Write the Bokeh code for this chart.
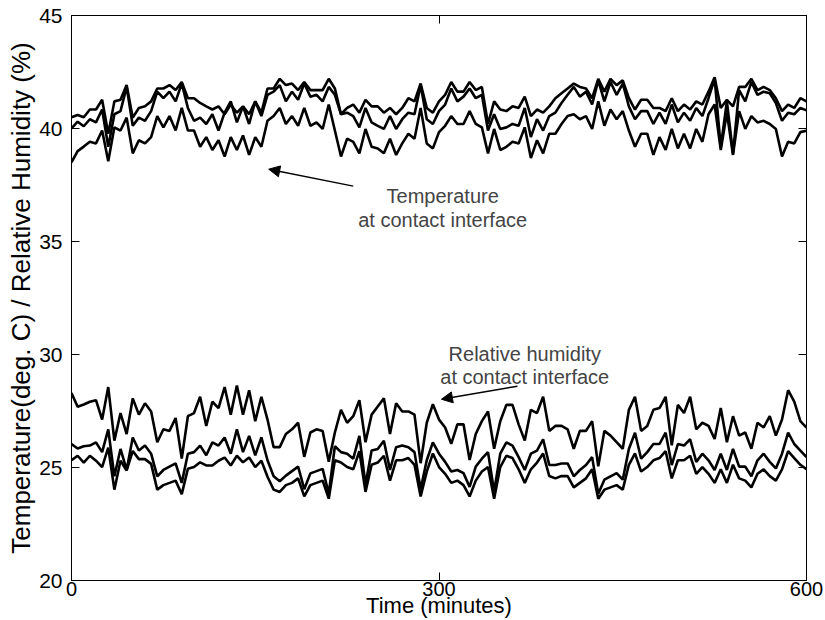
from bokeh.plotting import figure
from bokeh.models import FixedTicker, LinearAxis, Label, Arrow, NormalHead, Range1d
from bokeh.embed import file_html
from bokeh.resources import INLINE

time_min = list(range(0, 601, 5))

temp_1 = [40.5, 40.6, 40.5,
          40.84, 40.84, 41.27, 39.77, 41.20, 41.27, 41.92, 40.48, 40.91, 40.98,
          41.20, 41.77, 41.77, 41.92, 41.70, 42.06, 41.34, 41.34, 41.13, 40.98,
          40.84, 40.98, 40.63, 41.06, 40.70, 40.98, 40.63, 41.20, 40.70, 41.77,
          41.77, 42.20, 41.92, 41.99, 41.70, 42.06, 41.70, 41.70, 41.70, 42.20,
          41.77, 40.63, 40.91, 41.06, 40.70, 41.27, 40.98, 40.98, 40.70, 40.91,
          40.63, 40.91, 41.34, 41.20, 41.99, 40.91, 40.70, 41.20, 41.49, 42.06,
          41.63, 41.63, 42.06, 41.70, 41.84, 40.20, 41.20, 40.84, 40.77, 40.98,
          40.91, 41.41, 40.55, 40.84, 40.70, 40.98, 41.34, 41.56,
          41.77, 41.99, 41.84, 41.77, 41.34, 42.20, 41.63, 42.20, 41.92, 42.13,
          41.34, 40.84, 41.27, 41.27, 40.91, 40.91, 40.77, 41.34, 40.77, 41.06,
          40.84, 41.20, 41.06, 41.63, 42.27, 40.91, 41.27, 40.98, 41.84, 41.84,
          42.20, 41.70, 41.84, 41.70, 41.34, 40.77, 41.06, 40.91, 41.34, 41.2]

temp_2 = [40.0, 40.3, 40.1,
          40.41, 40.27, 40.84, 39.19, 40.63, 40.77, 41.84, 40.12, 40.48, 40.34,
          40.77, 41.63, 41.34, 41.63, 41.20, 41.99, 40.91, 40.34, 40.48, 40.20,
          40.63, 39.91, 40.70, 41.20, 40.27, 40.98, 40.20, 41.20, 40.55, 41.49,
          41.63, 41.92, 41.20, 41.63, 41.27, 41.99, 41.41, 41.49, 41.20, 41.84,
          41.49, 40.63, 40.70, 40.55, 40.05, 40.91, 40.27, 40.12, 39.98, 40.55,
          39.98, 40.41, 40.70, 40.63, 41.92, 40.41, 40.20, 40.77, 41.06, 41.77,
          41.20, 41.41, 41.77, 41.34, 41.49, 39.91, 40.63, 39.98, 40.05, 40.20,
          40.12, 40.91, 39.62, 40.41, 39.91, 40.55, 40.70, 41.13,
          41.49, 41.84, 41.41, 41.63, 41.06, 42.13, 41.20, 42.06, 41.49, 41.99,
          40.98, 40.41, 40.77, 40.77, 40.20, 40.70, 40.20, 41.06, 40.27, 40.70,
          40.34, 40.91, 40.55, 41.34, 42.20, 39.19, 41.20, 38.90, 41.70, 41.20,
          42.06, 41.49, 41.63, 41.56, 41.13, 40.34, 40.70, 40.63, 40.91, 40.8]

temp_3 = [38.5, 39.0, 39.2,
          39.41, 39.34, 39.91, 38.55, 40.05, 39.91, 40.48, 38.90, 39.48, 39.34,
          39.62, 40.55, 40.05, 40.55, 39.91, 40.91, 39.91, 39.91, 39.19, 39.62,
          39.05, 39.48, 38.76, 39.62, 39.05, 39.69, 38.83, 39.62, 39.19, 40.34,
          40.55, 40.91, 40.20, 40.55, 40.12, 40.91, 40.12, 40.27, 39.98, 41.06,
          39.91, 38.76, 39.55, 39.41, 38.90, 39.98, 39.19, 39.12, 38.90, 39.55,
          38.83, 39.34, 39.77, 39.55, 40.91, 39.34, 39.12, 39.84, 40.12, 40.55,
          40.20, 40.20, 40.77, 40.20, 40.05, 38.90, 39.98, 39.05, 39.19, 39.41,
          39.34, 40.05, 38.69, 39.48, 38.90, 39.77, 39.77, 40.20,
          40.55, 40.63, 40.41, 40.55, 39.98, 41.20, 40.12, 40.84, 40.41, 40.77,
          39.91, 39.19, 39.77, 39.77, 38.83, 39.62, 39.05, 39.98, 39.12, 39.77,
          39.12, 39.98, 39.41, 40.63, 41.06, 39.05, 40.70, 38.83, 40.77, 39.98,
          40.55, 40.27, 40.34, 40.20, 39.98, 38.76, 39.41, 39.34, 39.84, 39.9]

rh_1 = [28.29, 27.69, 27.79,
        27.91, 27.98, 27.12, 28.56, 26.19, 27.41, 26.48, 28.06, 27.34, 27.84,
        27.48, 26.12, 26.69, 26.62, 27.19, 25.40, 27.27, 27.41, 28.13, 26.84,
        27.91, 27.63, 28.56, 27.34, 28.63, 27.34, 28.42, 27.05, 28.13, 27.12,
        25.90, 25.90, 26.48, 26.69, 26.98, 25.47, 26.55, 26.69, 26.62, 25.26,
        26.55, 27.55, 26.98, 27.27, 27.98, 26.12, 27.34, 27.70, 28.06, 26.48,
        27.84, 27.48, 27.48, 27.34, 25.19, 26.98, 27.80, 27.12, 26.77, 26.05,
        26.91, 26.91, 25.33, 26.48, 27.05, 27.48, 25.83, 27.05, 27.77, 27.77,
        26.91, 26.19, 27.55, 27.41, 28.13, 26.62, 26.84, 26.84,
        26.69, 25.83, 26.62, 26.62, 27.05, 25.05, 26.62, 26.41, 26.12, 25.83,
        27.55, 28.13, 26.62, 26.84, 27.55, 27.63, 28.13, 25.98, 27.77, 27.41,
        28.13, 26.69, 26.98, 26.84, 26.26, 27.63, 26.12, 27.27, 26.41, 26.55,
        25.83, 26.98, 26.77, 27.27, 26.41, 27.12, 28.42, 27.91, 27.05, 26.77]

rh_2 = [26.04, 25.84, 25.94,
        25.97, 26.11, 25.68, 26.69, 24.61, 25.82, 24.89, 26.33, 25.75, 25.97,
        25.61, 24.61, 24.89, 25.04, 25.18, 24.32, 25.61, 25.68, 25.97, 25.54,
        26.11, 25.97, 26.33, 25.61, 26.69, 25.68, 26.40, 25.54, 26.33, 25.32,
        24.61, 24.39, 24.64, 24.84, 25.04, 24.04, 24.74, 24.84, 24.94, 23.84,
        25.94, 25.68, 25.61, 25.39, 26.40, 24.24, 25.75, 25.82, 26.18, 24.89,
        25.90, 25.97, 25.90, 25.68, 24.04, 25.32, 26.11, 25.61, 25.25, 24.82,
        24.89, 24.75, 24.14, 25.04, 25.39, 25.68, 23.94, 25.61, 26.11, 25.97,
        25.46, 24.89, 25.61, 25.75, 26.25, 25.11, 25.11, 25.18,
        25.18, 24.61, 24.89, 25.11, 25.46, 23.84, 24.46, 24.61, 24.75, 24.46,
        25.82, 26.54, 25.39, 25.68, 26.04, 26.04, 26.54, 25.11, 26.04, 25.97,
        26.25, 25.25, 25.61, 25.32, 24.89, 25.61, 24.89, 25.82, 25.04, 25.04,
        24.61, 25.32, 25.61, 25.25, 24.96, 25.61, 26.54, 26.04, 25.75, 25.46]

rh_3 = [25.32, 25.52, 25.22,
        25.52, 25.30, 25.02, 25.88, 24.02, 25.30, 24.87, 25.73, 25.37, 25.37,
        25.16, 24.02, 24.22, 24.32, 24.42, 23.82, 24.94, 25.02, 25.23, 25.09,
        25.09, 25.30, 25.44, 25.09, 25.52, 25.23, 25.44, 25.02, 25.30, 24.59,
        24.02, 23.92, 24.22, 24.32, 24.52, 23.72, 24.22, 24.32, 24.42, 23.62,
        25.32, 25.22, 25.02, 24.92, 25.72, 23.92, 25.12, 25.22, 25.52, 24.42,
        25.32, 25.32, 25.42, 25.12, 23.72, 24.82, 25.62, 25.02, 24.72, 24.32,
        24.42, 24.22, 23.72, 24.42, 24.82, 25.02, 23.62, 25.02, 25.52, 25.42,
        24.92, 24.32, 24.92, 25.22, 25.62, 24.62, 24.52, 24.62,
        24.62, 24.12, 24.32, 24.52, 24.92, 23.62, 24.02, 24.12, 24.22, 24.02,
        25.12, 25.62, 24.82, 25.02, 25.32, 25.42, 25.72, 24.52, 25.32, 25.32,
        25.52, 24.72, 25.02, 24.72, 24.32, 24.92, 24.32, 25.12, 24.52, 24.42,
        24.12, 24.72, 24.92, 24.62, 24.42, 24.92, 25.72, 25.42, 25.12, 24.92]

x_ticks = [0, 300, 600]
y_ticks = [20, 25, 30, 35, 40, 45]

FONT = "Liberation Sans"

p = figure(width=825, height=620, x_range=Range1d(0, 600), y_range=Range1d(20, 45),
           output_backend="svg", toolbar_location=None,
           min_border_left=71, min_border_right=19, min_border_top=15, min_border_bottom=38)
p.background_fill_color = "white"
p.border_fill_color = "white"
p.outline_line_color = "black"
p.grid.visible = False

for s in [temp_1, temp_2, temp_3, rh_1, rh_2, rh_3]:
    p.line(time_min, s, line_color="black", line_width=2.6)

def style(ax, ticks, labels=True):
    ax.ticker = FixedTicker(ticks=ticks)
    ax.major_tick_in = 8
    ax.major_tick_out = 0
    ax.minor_tick_line_color = None
    ax.axis_line_color = "black"
    ax.major_tick_line_color = "black"
    ax.major_label_text_font = FONT
    ax.major_label_text_color = "black"
    ax.major_label_text_font_size = "21px"
    if not labels:
        ax.major_label_overrides = {t: "" for t in ticks}
        ax.major_label_standoff = 0

style(p.xaxis[0], x_ticks)
style(p.yaxis[0], y_ticks)
p.xaxis[0].major_label_text_font_size = "20px"
p.xaxis[0].major_label_standoff = 1
p.xaxis[0].major_label_text_line_height = 0.8
p.xaxis[0].axis_label = "Time (minutes)"
p.xaxis[0].axis_label_text_font = FONT
p.xaxis[0].axis_label_text_font_size = "22px"
p.xaxis[0].axis_label_text_font_style = "normal"
p.xaxis[0].axis_label_text_color = "black"
p.xaxis[0].axis_label_text_line_height = 0.8
p.xaxis[0].axis_label_standoff = -6

p.yaxis[0].major_label_standoff = 9
p.yaxis[0].axis_label = "Temperature(deg. C) / Relative Humidity (%)"
p.yaxis[0].axis_label_text_font = FONT
p.yaxis[0].axis_label_text_font_size = "26px"
p.yaxis[0].axis_label_text_font_style = "normal"
p.yaxis[0].axis_label_text_color = "black"
p.yaxis[0].axis_label_standoff = 0

ax_r = LinearAxis()
style(ax_r, y_ticks, labels=False)
p.add_layout(ax_r, "right")
ax_t = LinearAxis()
style(ax_t, x_ticks, labels=False)
p.add_layout(ax_t, "above")

p.add_layout(Label(x=303, y=37.0, text="Temperature", text_font=FONT,
                   text_font_size="20px", text_align="center", text_baseline="middle"))
p.add_layout(Label(x=303, y=35.96, text="at contact interface", text_font=FONT,
                   text_font_size="20px", text_align="center", text_baseline="middle"))
p.add_layout(Arrow(x_start=230, y_start=37.45, x_end=161, y_end=38.2, line_width=1.5,
                   end=NormalHead(size=11, fill_color="black", line_color="black")))

p.add_layout(Label(x=370, y=30.01, text="Relative humidity", text_font=FONT,
                   text_font_size="20px", text_align="center", text_baseline="middle"))
p.add_layout(Label(x=370, y=29.0, text="at contact interface", text_font=FONT,
                   text_font_size="20px", text_align="center", text_baseline="middle"))
p.add_layout(Arrow(x_start=364, y_start=28.6, x_end=302, y_end=28.02, line_width=1.5,
                   end=NormalHead(size=11, fill_color="black", line_color="black")))

open("out.html", "w").write(file_html(p, INLINE))
